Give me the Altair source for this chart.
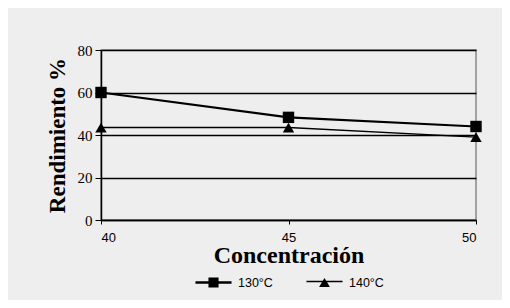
import altair as alt
import pandas as pd

concentracion = [40, 45, 50]
rend_130 = [60, 48.3, 44]
rend_140 = [43.5, 43.5, 39]
series = ["130°C", "140°C"]
y_ticks = [0, 20, 40, 60, 80]
x_ticks = [40, 45, 50]

df = pd.DataFrame({
    "Concentración": concentracion * 2,
    "Rendimiento": rend_130 + rend_140,
    "Serie": [series[0]] * 3 + [series[1]] * 3,
})

x = alt.X("Concentración:Q", scale=alt.Scale(domain=[40, 50], nice=False, zero=False),
          axis=alt.Axis(values=x_ticks, title="Concentración", grid=False,
                        labelFont="Liberation Sans", labelFontSize=13, labelColor="#000",
                        titleFont="Liberation Serif", titleFontSize=24, titleFontWeight="bold",
                        titleColor="#000", titlePadding=-1, tickColor="#000", tickSize=4,
                        domainColor="#000", domainWidth=1.5, labelPadding=7))
y = alt.Y("Rendimiento:Q", scale=alt.Scale(domain=[0, 80], nice=False),
          axis=alt.Axis(values=y_ticks, title="Rendimiento %", grid=True, gridColor="#000",
                        gridWidth=1.3, labelFont="Liberation Serif", labelFontSize=15,
                        labelColor="#000", titleFont="Liberation Serif", titleFontSize=23,
                        titleFontWeight="bold", titleColor="#000", titlePadding=8,
                        tickColor="#000", tickSize=6, domainColor="#000", domainWidth=1.5,
                        labelPadding=3))

legend_paths = [
    "M-1,-0.07H1V0.07H-1Z M-0.28,-0.28H0.28V0.28H-0.28Z",
    "M-1,-0.1H1V-0.02H-1Z M0,-0.25L0.3,0.25H-0.3Z",
]

base = alt.Chart(df)
line130 = base.transform_filter(alt.datum.Serie == series[0]).mark_line(
    color="#000", strokeWidth=2.2).encode(x=x, y=y)
line140 = base.transform_filter(alt.datum.Serie == series[1]).mark_line(
    color="#000", strokeWidth=1.5).encode(x=x, y=y)
pts = base.mark_point(filled=True, opacity=1, size=130, color="#000").encode(
    x=x, y=y,
    shape=alt.Shape("Serie:N", scale=alt.Scale(domain=series, range=["square", "triangle-up"]),
                    legend=None),
)
legend_layer = base.transform_filter("datum.Serie == 'ninguna'").mark_point(
    filled=True, opacity=1, color="#000").encode(
    x=x, y=y,
    shape=alt.Shape("Serie:N", scale=alt.Scale(domain=series, range=legend_paths),
                    legend=alt.Legend(title=None, orient="none", direction="horizontal",
                                      legendX=94, legendY=214,
                                      labelFont="Liberation Sans", labelFontSize=12.5,
                                      labelColor="#000", symbolSize=1300, columnPadding=33,
                                      labelOffset=6, symbolFillColor="#000",
                                      symbolStrokeWidth=0, symbolOpacity=1)),
)

chart = alt.layer(line130, line140, pts, legend_layer).resolve_scale(
    shape="independent"
).properties(
    width=375, height=170,
    background="#eeeeee",
    padding={"left": 93, "top": 42, "right": 26, "bottom": 80},
    autosize=alt.AutoSizeParams(type="none"),
).configure_view(stroke="#888", strokeWidth=1.5)

chart.save("out.html", embed_options={"renderer": "svg", "actions": False})
